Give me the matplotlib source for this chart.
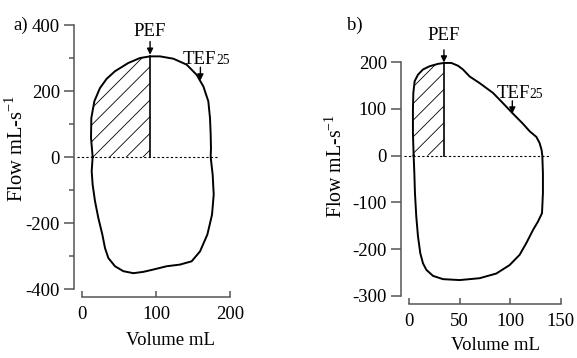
import matplotlib
matplotlib.use("Agg")
import matplotlib.pyplot as plt
import numpy as np

plt.rcParams['font.family'] = ['Liberation Serif', 'DejaVu Serif']
plt.rcParams['mathtext.fontset'] = 'custom'
plt.rcParams['mathtext.rm'] = 'Liberation Serif'
plt.rcParams['axes.unicode_minus'] = False
plt.rcParams['hatch.linewidth'] = 0.6
FS = 13.5

# panel a: flow-volume loop (volume mL, flow mL/s), traced clockwise from the left zero crossing
a_vol = [14.4, 12.2, 12.6, 16.7, 24.3, 33.3, 44.6, 62.6, 78.4, 91.9, 105.4, 123.4, 141.4, 155.0,
         164.0, 170.7, 173.0, 173.9, 174.3, 173.9,
         176.6, 178.0, 175.7, 169.4, 159.5, 148.2, 132.4, 114.4, 96.4, 82.9, 69.4, 55.9, 44.6,
         35.6, 31.1, 27.5, 22.1, 17.6, 14.4, 13.1, 14.4]
a_flow = [0, 58, 118, 169, 209, 237, 260, 285, 300, 305, 305, 298, 280, 249,
          214, 169, 118, 68, 27, 0,
          -54, -114, -175, -235, -286, -316, -326, -331, -341, -348, -352, -346, -331,
          -306, -276, -235, -185, -134, -84, -43, 0]
a_pef = (92, 310)
a_tef = (160, 232)

# panel b
b_vol = [4.6, 3.9, 3.9, 4.3, 5.6, 8.9, 13.8, 20.4, 28.6, 34.5, 41.8, 48.4, 53.3, 59.9, 69.7,
         82.9, 92.8, 102.0, 112.5, 119.1, 125.7, 128.9, 130.9, 131.6,
         132.2, 132.2, 131.3, 127.3, 122.4, 115.8, 109.2, 99.3, 86.2, 69.7, 50.0, 33.6, 23.7,
         17.1, 13.8, 11.2, 8.9, 7.2, 5.9, 5.3, 4.6]
b_flow = [0, 48, 98, 134, 159, 173, 184, 191, 196, 198, 198, 192, 184, 169, 155,
          134, 112, 91, 68, 52, 40, 27, 12, 0,
          -38, -80, -123, -141, -159, -187, -212, -234, -252, -262, -266, -264, -257,
          -244, -230, -209, -173, -130, -80, -38, 0]
b_pef = (34.5, 199)
b_tef = (102, 90)


def draw(ax, vol, flow, pef, tef, xl, yl, xt, yt, minor, zero_end, txt):
    vol = np.array(vol)
    flow = np.array(flow)
    ax.plot(vol, flow, color='k', lw=1.4, clip_on=False)

    # hatched area left of PEF, above zero
    n = np.argmax(vol >= pef[0])
    hx = list(vol[:n]) + [pef[0], pef[0]]
    hy = list(flow[:n]) + [np.interp(pef[0], vol[:n + 1], flow[:n + 1]), 0]
    ax.fill(hx, hy, facecolor='none', edgecolor='k', hatch='//', lw=0)
    ax.plot([pef[0], pef[0]], [0, hy[-2]], color='k', lw=1.2)

    ax.plot([xl[0] - 0.035 * (xl[1] - xl[0]), zero_end], [0, 0], color='k', lw=0.8,
            ls=(0, (2, 2)), clip_on=False)

    ap = dict(arrowstyle='-|>', color='k', lw=1, mutation_scale=9, shrinkA=0, shrinkB=0)
    ax.annotate('', xy=pef, xytext=(pef[0], pef[1] + txt[0]), arrowprops=ap, annotation_clip=False)
    ax.text(pef[0], pef[1] + txt[0] + txt[1], 'PEF', ha='center', va='center', fontsize=FS)
    ax.annotate('', xy=tef, xytext=(tef[0], tef[1] + txt[0]), arrowprops=ap, annotation_clip=False)
    ax.text(tef[0] + txt[2], tef[1] + txt[0] + txt[3], 'TEF', ha='right', va='baseline', fontsize=FS)
    ax.text(tef[0] + txt[2], tef[1] + txt[0] + txt[3], '25', ha='left', va='baseline', fontsize=FS * 0.72)

    ax.set_xlim(xl)
    ax.set_ylim(yl)
    ax.set_xticks(xt)
    ax.set_yticks(yt)
    if minor:
        ax.set_yticks(minor, minor=True)
    for s in ['top', 'right']:
        ax.spines[s].set_visible(False)
    ax.spines['left'].set_position(('outward', 6))
    ax.spines['bottom'].set_position(('outward', 6))
    for s in ['left', 'bottom']:
        ax.spines[s].set_color('#555555')
        ax.spines[s].set_linewidth(1.1)
    ax.tick_params(axis='y', direction='out', length=7, width=1.1, color='#555555', pad=3,
                   labelsize=FS)
    ax.tick_params(axis='y', which='minor', direction='out', length=3.5, width=1.1, color='#555555')
    ax.tick_params(axis='x', direction='in', length=4, width=1.1, color='#555555', pad=6,
                   labelsize=FS)
    ax.patch.set_visible(False)


fig = plt.figure(figsize=(5.77, 3.58), dpi=100)

ax1 = fig.add_axes([0.1421, 0.1927, 0.2565, 0.7374])
draw(ax1, a_vol, a_flow, a_pef, a_tef, (0, 200), (-400, 400), [0, 100, 200],
     [-400, -200, 0, 200, 400], [-300, -100, 100, 300], 184, (40, 31, 21, 9))
ax1.set_xlabel('Volume mL', fontsize=FS)
ax1.xaxis.set_label_coords(0.595, -0.163)
ax1.set_ylabel(r'Flow mL-s$^{\mathregular{-1}}$', fontsize=14.8)
ax1.yaxis.set_label_coords(-0.365, 0.534)

ax2 = fig.add_axes([0.7088, 0.1732, 0.2634, 0.6536])
draw(ax2, b_vol, b_flow, b_pef, b_tef, (0, 150), (-300, 200), [0, 50, 100, 150],
     [-300, -200, -100, 0, 100, 200], None, 138, (27, 31, 17, 7))
ax2.set_xlabel('Volume mL', fontsize=FS)
ax2.xaxis.set_label_coords(0.572, -0.175)
ax2.set_ylabel(r'Flow mL-s$^{\mathregular{-1}}$', fontsize=14.3)
ax2.yaxis.set_label_coords(-0.408, 0.556)

fig.text(13 / 577, 1 - 25 / 358, 'a)', fontsize=FS, ha='left', va='center')
fig.text(347 / 577, 1 - 25 / 358, 'b)', fontsize=FS, ha='left', va='center')

fig.savefig('out.png', dpi=100)
